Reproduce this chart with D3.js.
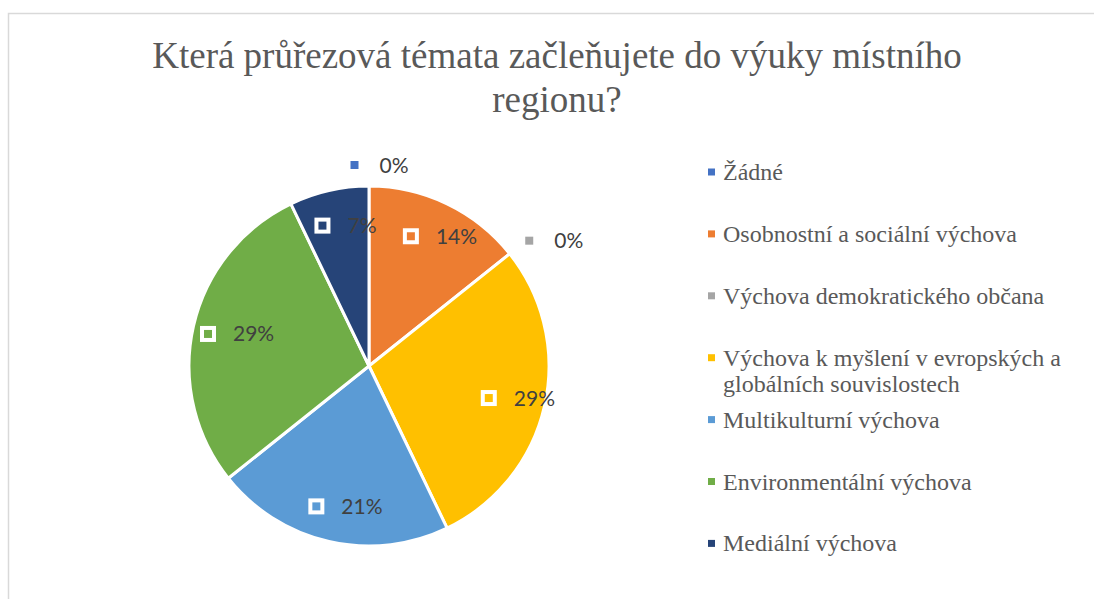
<!DOCTYPE html>
<html>
<head>
<meta charset="utf-8">
<script src="https://cdn.jsdelivr.net/npm/d3@7"></script>
<style>
	body { margin: 0; background: #fff; }
	svg { display: block; }
</style>
</head>
<body>
<script>
// data (number of answers per topic)
const categories = ["Žádné", "Osobnostní a sociální výchova", "Výchova demokratického občana",
	"Výchova k myšlení v evropských a globálních souvislostech", "Multikulturní výchova",
	"Environmentální výchova", "Mediální výchova"];
const answers = [0, 2, 0, 4, 3, 4, 1];
const colors = ["#4472C4", "#ED7D31", "#A5A5A5", "#FFC000", "#5B9BD5", "#70AD47", "#264478"];
const titleLines = ["Která průřezová témata začleňujete do výuky místního", "regionu?"];

var width = 1094,
	height = 599;

let svg = d3.select("body").append("svg")
	.attr("width", width)
	.attr("height", height);

// chart frame (only left and top edges are visible)
svg.append("path")
	.attr("d", "M8.5," + height + "V13.5H" + width)
	.attr("fill", "none")
	.attr("stroke", "#d9d9d9")
	.attr("stroke-width", 1.5);

// title
svg.append("g").selectAll("text")
	.data(titleLines)
	.enter()
	.append("text")
	.attr("x", 557)
	.attr("y", (d, i) => 68 + i * 44)
	.attr("text-anchor", "middle")
	.attr("font-family", "'Liberation Serif', 'Times New Roman', serif")
	.attr("font-size", 37)
	.attr("fill", "#595959")
	.text(d => d);

// pie
let cx = 369, cy = 366, radius = 180;
let total = d3.sum(answers);
let data = categories.map((c, i) => ({name: c, value: answers[i], color: colors[i]}));

let pie = d3.pie().sort(null).value(d => d.value);
let arcs = pie(data);
let arc = d3.arc().innerRadius(0).outerRadius(radius);

let pg = svg.append("g").attr("transform", "translate(" + cx + "," + cy + ")");

pg.selectAll("path")
	.data(arcs.filter(d => d.data.value > 0))
	.enter()
	.append("path")
	.attr("d", arc)
	.attr("fill", d => d.data.color)
	.attr("stroke", "#fff")
	.attr("stroke-width", 3)
	.attr("stroke-linejoin", "round");

// data labels: marker + percent
let fmt = d3.format(".0%");
let labelFont = "Lato, 'Open Sans', sans-serif";
arcs.forEach(function(d){
	let a = (d.startAngle + d.endAngle) / 2;
	let g = pg.append("g");
	g.append("rect")
		.attr("width", 12).attr("height", 12)
		.attr("x", -6).attr("y", -6)
		.attr("fill", d.data.color)
		.attr("stroke", "#fff")
		.attr("stroke-width", 4);
	let t = g.append("text")
		.attr("x", 25)
		.attr("y", 7.5)
		.attr("font-family", labelFont)
		.attr("font-size", 21)
		.attr("fill", "#404040")
		.text(fmt(d.data.value / total));
	let tw = t.node().getComputedTextLength();
	let gw = 32 + tw;
	let px, py;
	if (d.data.value > 0) {
		// inside the slice
		px = Math.sin(a) * radius * 0.8;
		py = -Math.cos(a) * radius * 0.8;
	} else {
		// outside, pushed away from the edge
		let r2 = radius + 13;
		px = Math.sin(a) * r2 + Math.sin(a) * gw / 2;
		py = -Math.cos(a) * r2 - Math.cos(a) * 8;
	}
	// px,py is the centre of the group, excel nudges it a bit right
	g.attr("transform", "translate(" + (px - gw / 2 + 7 + 9) + "," + py + ")");
});

// legend
let lg = svg.append("g").attr("transform", "translate(708,172)");
let legendFont = "'Liberation Serif', 'Times New Roman', serif";
let maxW = 350;

data.forEach(function(d, i){
	let row = lg.append("g").attr("transform", "translate(0," + (i * 61.9) + ")");
	row.append("rect")
		.attr("x", 0).attr("y", -3.5)
		.attr("width", 7).attr("height", 7)
		.attr("fill", d.color);
	let t = row.append("text")
		.attr("x", 15)
		.attr("y", 8)
		.attr("font-family", legendFont)
		.attr("font-size", 24)
		.attr("fill", "#595959");
	// simple word wrap
	let words = d.name.split(" ");
	let line = [];
	let ts = t.append("tspan").attr("x", 15).attr("dy", 0);
	words.forEach(function(w){
		line.push(w);
		ts.text(line.join(" "));
		if (ts.node().getComputedTextLength() > maxW && line.length > 1) {
			line.pop();
			ts.text(line.join(" "));
			line = [w];
			ts = t.append("tspan").attr("x", 15).attr("dy", 26).text(w);
		}
	});
});
</script>
</body>
</html>
